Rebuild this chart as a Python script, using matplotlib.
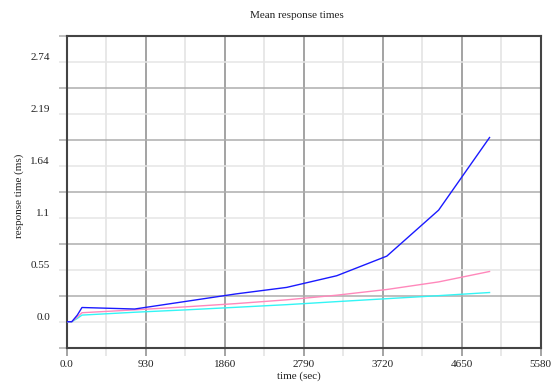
import matplotlib
matplotlib.use("Agg")
import matplotlib.pyplot as plt
import numpy as np
from matplotlib.ticker import FixedLocator, FixedFormatter

# Sample times (seconds) and mean response times (ms) per series
time_sec = [0, 60, 125, 180, 800, 1400, 1990, 2590, 3180, 3770, 4380, 4980]
series_blue = [0.0, 0.0, 0.07, 0.15, 0.134, 0.214, 0.293, 0.362, 0.485, 0.692, 1.177, 1.943]
series_pink = [0.0, 0.0, 0.05, 0.095, 0.125, 0.157, 0.191, 0.231, 0.28, 0.34, 0.42, 0.53]
series_cyan = [0.0, 0.0, 0.035, 0.07, 0.10, 0.125, 0.152, 0.18, 0.212, 0.243, 0.275, 0.308]

x_ticks = [0, 930, 1860, 2790, 3720, 4650, 5580]
x_tick_labels = ["0.0", "930", "1860", "2790", "3720", "4650", "5580"]
y_step = 0.548
y_ticks = [0, 0.548, 1.096, 1.644, 2.192, 2.74]
y_tick_labels = ["0.0", "0.55", "1.1", "1.64", "2.19", "2.74"]

plt.rcParams["font.family"] = ["Liberation Serif", "DejaVu Serif"]

W, H = 553, 383
fig = plt.figure(figsize=(W / 100, H / 100), dpi=100)
ax = fig.add_axes([66.7 / W, 1 - 347.7 / H, (540.5 - 66.7) / W, (347.7 - 36.0) / H])

ax.plot(time_sec, series_cyan, color="#33f5f5", lw=1.0, zorder=3)
ax.plot(time_sec, series_pink, color="#ff88bb", lw=1.0, zorder=4)
ax.plot(time_sec, series_blue, color="#1a1aff", lw=1.0, zorder=5)

ax.set_xlim(0, 5580)
ax.set_ylim(-y_step / 2, y_ticks[-1] + y_step / 2)

# x: labelled ticks get dark lines, half-steps get light lines
ax.xaxis.set_major_locator(FixedLocator(x_ticks))
ax.xaxis.set_major_formatter(FixedFormatter(x_tick_labels))
ax.xaxis.set_minor_locator(FixedLocator([465 + 930 * i for i in range(6)]))
# y: labelled ticks get light lines, half-steps get dark lines
ax.yaxis.set_major_locator(FixedLocator(y_ticks))
ax.yaxis.set_major_formatter(FixedFormatter(y_tick_labels))
ax.yaxis.set_minor_locator(FixedLocator([y_step * (k + 0.5) for k in range(-1, 6)]))

ax.grid(True, axis="x", which="major", color="#8a8a8a", lw=1.1, zorder=0)
ax.grid(True, axis="x", which="minor", color="#e2e2e2", lw=1.1, zorder=0)
ax.grid(True, axis="y", which="major", color="#e6e6e6", lw=1.1, zorder=0)
ax.grid(True, axis="y", which="minor", color="#adadad", lw=1.1, zorder=0)
ax.set_axisbelow(True)

ax.tick_params(axis="x", which="major", length=6, width=1.1, color="#8a8a8a",
               labelsize=8, pad=3, labelcolor="#222222")
ax.tick_params(axis="x", which="minor", length=6, width=1.1, color="#e2e2e2")
ax.tick_params(axis="y", which="major", length=6, width=1.1, color="#e6e6e6",
               labelsize=8, pad=6, labelcolor="#222222")
ax.tick_params(axis="y", which="minor", length=6, width=1.1, color="#adadad")
for lbl in ax.get_yticklabels():
    lbl.set_verticalalignment("bottom")

for sp in ax.spines.values():
    sp.set_color("#444444")
    sp.set_linewidth(1.5)

fig.text(297 / W, 1 - 16 / H, "Mean response times", ha="center", va="center",
         fontsize=8, color="#222222")
fig.text(299 / W, 1 - 376 / H, "time (sec)", ha="center", va="center",
         fontsize=8, color="#222222")
fig.text(19 / W, 1 - 196 / H, "response time (ms)", ha="center", va="center",
         rotation=90, fontsize=8, color="#222222")

fig.savefig("out.png", dpi=100)
